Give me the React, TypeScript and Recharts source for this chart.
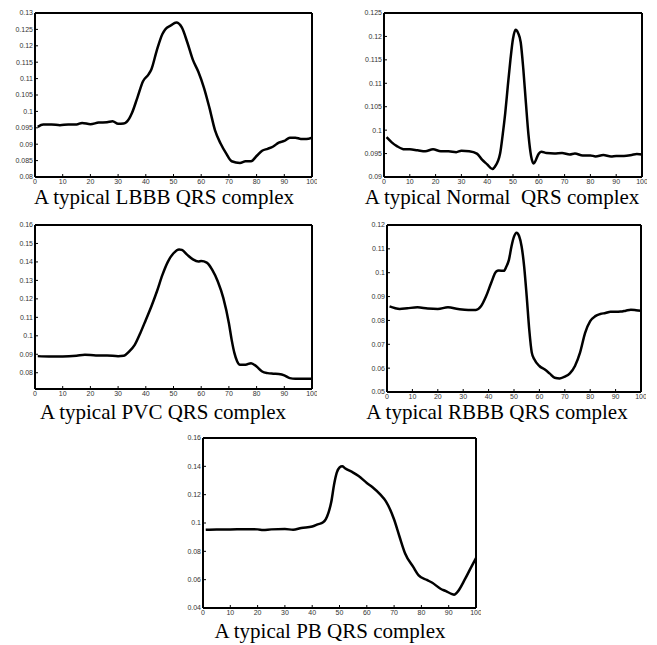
import React from 'react';
import { LineChart, Line, XAxis, YAxis } from 'recharts';

// ---------- data ----------
const X_TICKS = [0, 10, 20, 30, 40, 50, 60, 70, 80, 90, 100];

const LBBB_X = [1, 3, 6, 9, 12, 15, 17, 20, 23, 26, 28, 30, 32, 34, 35, 37, 39, 41, 42, 44, 46, 47, 49, 51, 53, 55, 57, 59, 61, 63, 65, 67, 69, 71, 74, 76, 78, 80, 82, 84, 86, 88, 90, 92, 94, 96, 98, 100];
const LBBB_Y = [0.0953, 0.0960, 0.0960, 0.0958, 0.0960, 0.0960, 0.0965, 0.0961, 0.0966, 0.0967, 0.0970, 0.0962, 0.0963, 0.0978, 0.0995, 0.1043, 0.1092, 0.1113, 0.1128, 0.1187, 0.1236, 0.1250, 0.1262, 0.1271, 0.1256, 0.1210, 0.1157, 0.1120, 0.1072, 0.1010, 0.0942, 0.0902, 0.0872, 0.0848, 0.0843, 0.0848, 0.0848, 0.0864, 0.0880, 0.0886, 0.0893, 0.0905, 0.0910, 0.0920, 0.0920, 0.0916, 0.0916, 0.0920];
const LBBB_TICKS = [0.08, 0.085, 0.09, 0.095, 0.1, 0.105, 0.11, 0.115, 0.12, 0.125, 0.13];

const NORMAL_X = [1, 3, 5, 8, 10, 13, 16, 19, 22, 25, 28, 30, 33, 36, 38, 40, 42, 43, 45, 46, 47, 48, 49, 50, 51, 52, 53, 54, 55, 56, 57, 58, 60, 61, 63, 66, 69, 72, 74, 77, 80, 82, 85, 88, 90, 93, 96, 98, 100];
const NORMAL_Y = [0.0985, 0.0974, 0.0966, 0.0959, 0.0959, 0.0957, 0.0955, 0.0959, 0.0955, 0.0955, 0.0953, 0.0956, 0.0955, 0.0950, 0.0937, 0.0927, 0.0917, 0.0922, 0.0950, 0.0990, 0.1037, 0.1095, 0.1150, 0.1195, 0.1214, 0.1207, 0.1187, 0.1130, 0.1058, 0.0990, 0.0945, 0.0929, 0.0950, 0.0954, 0.0951, 0.0950, 0.0951, 0.0948, 0.0950, 0.0946, 0.0946, 0.0944, 0.0947, 0.0944, 0.0945, 0.0945, 0.0947, 0.0949, 0.0948];
const NORMAL_TICKS = [0.09, 0.095, 0.1, 0.105, 0.11, 0.115, 0.12, 0.125];

const PVC_X = [1, 5, 10, 15, 18, 22, 26, 30, 32, 34, 36, 38, 40, 42, 44, 46, 48, 50, 52, 53, 55, 57, 59, 60, 62, 64, 66, 68, 70, 71, 72, 73, 74, 76, 78, 80, 82, 84, 86, 88, 90, 92, 94, 97, 100];
const PVC_Y = [0.0890, 0.0888, 0.0888, 0.0892, 0.0897, 0.0894, 0.0894, 0.0890, 0.0892, 0.0915, 0.0951, 0.1014, 0.1086, 0.1159, 0.1240, 0.1330, 0.1402, 0.1447, 0.1468, 0.1465, 0.1438, 0.1414, 0.1402, 0.1405, 0.1396, 0.1357, 0.1294, 0.1204, 0.1068, 0.0978, 0.0906, 0.0861, 0.0843, 0.0843, 0.0852, 0.0834, 0.0807, 0.0798, 0.0795, 0.0793, 0.0786, 0.0771, 0.0768, 0.0768, 0.0768];
const PVC_TICKS = [0.08, 0.09, 0.1, 0.11, 0.12, 0.13, 0.14, 0.15, 0.16];

const RBBB_X = [1, 3, 5, 8, 12, 16, 20, 24, 28, 32, 35, 37, 39, 41, 43, 44, 46, 47, 48, 49, 50, 51, 52, 53, 54, 55, 56, 57, 58, 60, 62, 64, 66, 68, 70, 72, 74, 76, 78, 80, 82, 84, 86, 88, 90, 92, 94, 96, 98, 100];
const RBBB_Y = [0.0859, 0.0852, 0.0848, 0.0851, 0.0855, 0.0850, 0.0848, 0.0855, 0.0848, 0.0844, 0.0844, 0.0859, 0.0901, 0.0957, 0.1005, 0.1009, 0.1008, 0.1026, 0.1054, 0.1110, 0.1151, 0.1168, 0.1154, 0.1110, 0.1026, 0.0901, 0.0762, 0.0665, 0.0637, 0.0609, 0.0595, 0.0578, 0.0560, 0.0557, 0.0564, 0.0578, 0.0609, 0.0665, 0.0748, 0.0797, 0.0818, 0.0827, 0.0831, 0.0836, 0.0836, 0.0837, 0.0841, 0.0845, 0.0843, 0.0840];
const RBBB_TICKS = [0.05, 0.06, 0.07, 0.08, 0.09, 0.1, 0.11, 0.12];

const PB_X = [1, 5, 10, 15, 20, 22, 25, 30, 33, 36, 40, 42, 44, 45, 46, 47, 48, 49, 50, 51, 52, 55, 57, 60, 62, 65, 67, 70, 72, 74, 77, 79, 82, 84, 87, 89, 91, 92, 93, 96, 98, 100];
const PB_Y = [0.0953, 0.0955, 0.0955, 0.0956, 0.0955, 0.0951, 0.0955, 0.0957, 0.0953, 0.0965, 0.0975, 0.0990, 0.1005, 0.1028, 0.1075, 0.1150, 0.1270, 0.1355, 0.1392, 0.1400, 0.1386, 0.1356, 0.1331, 0.1283, 0.1254, 0.1200, 0.1153, 0.1025, 0.0903, 0.0787, 0.0690, 0.0630, 0.0598, 0.0578, 0.0536, 0.0519, 0.0500, 0.0494, 0.0508, 0.0605, 0.0680, 0.0753];
const PB_TICKS = [0.04, 0.06, 0.08, 0.1, 0.12, 0.14, 0.16];

const TITLES = [
  'A typical LBBB QRS complex',
  'A typical Normal  QRS complex',
  'A typical PVC QRS complex',
  'A typical RBBB QRS complex',
  'A typical PB QRS complex',
];

// ---------- layout ----------
const PANELS = [
  { xs: LBBB_X, ys: LBBB_Y, ticks: LBBB_TICKS, domain: [0.08, 0.13], frame: [35, 13, 312, 177], title: [164, 204] },
  { xs: NORMAL_X, ys: NORMAL_Y, ticks: NORMAL_TICKS, domain: [0.09, 0.125], frame: [384, 13, 642, 177], title: [502, 204] },
  { xs: PVC_X, ys: PVC_Y, ticks: PVC_TICKS, domain: [0.0712, 0.16], frame: [35, 225, 312, 389], title: [163, 419] },
  { xs: RBBB_X, ys: RBBB_Y, ticks: RBBB_TICKS, domain: [0.05, 0.12], frame: [387, 225, 641, 392], title: [497, 419] },
  { xs: PB_X, ys: PB_Y, ticks: PB_TICKS, domain: [0.04, 0.16], frame: [203, 438, 476, 608], title: [330, 638] },
];

const fmt = (v: number) => String(+v.toFixed(3));
const TICK_STYLE = { fontSize: 7, fill: '#333', fontFamily: '"Liberation Sans", Arial, sans-serif' };
const AXIS_LINE = { stroke: '#000', strokeWidth: 2 };
const TICK_LINE = { stroke: '#000', strokeWidth: 1 };

function Panel({ xs, ys, ticks, domain, frame }: any) {
  const [x0, y0, x1, y1] = frame;
  const YW = 40, XH = 20, MT = 5, MR = 5;
  const width = x1 - x0 + YW + MR;
  const height = y1 - y0 + MT + XH;
  const data = xs.map((x: number, i: number) => ({ x, y: ys[i] }));
  return (
    <div style={{ position: 'absolute', left: x0 - YW, top: y0 - MT }}>
      <LineChart width={width} height={height} data={data} margin={{ top: MT, right: MR, bottom: 0, left: 0 }}>
        <XAxis xAxisId="b" dataKey="x" type="number" domain={[0, 100]} ticks={X_TICKS} allowDataOverflow interval={0}
          orientation="bottom" height={XH} tickSize={-3} tickMargin={5}
          axisLine={AXIS_LINE} tickLine={TICK_LINE} tick={TICK_STYLE} />
        <XAxis xAxisId="t" type="number" domain={[0, 100]} ticks={X_TICKS} allowDataOverflow interval={0}
          orientation="top" mirror tick={false} tickSize={3}
          axisLine={AXIS_LINE} tickLine={TICK_LINE} />
        <YAxis yAxisId="l" type="number" domain={domain} ticks={ticks} allowDataOverflow interval={0}
          orientation="left" width={YW} tickSize={-3} tickMargin={5} tickFormatter={fmt}
          axisLine={AXIS_LINE} tickLine={TICK_LINE} tick={TICK_STYLE} />
        <YAxis yAxisId="r" type="number" domain={domain} ticks={ticks} allowDataOverflow interval={0}
          orientation="right" mirror tick={false} tickSize={3}
          axisLine={AXIS_LINE} tickLine={TICK_LINE} />
        <Line xAxisId="b" yAxisId="l" dataKey="y" type="monotone" stroke="#000" strokeWidth={2.5}
          dot={false} activeDot={false} isAnimationActive={false} />
      </LineChart>
    </div>
  );
}

export default function App() {
  return (
    <div style={{ position: 'absolute', left: 0, top: 0, width: 657, height: 645, background: '#fff', overflow: 'hidden' }}>
      {PANELS.map((p, i) => (
        <Panel key={i} {...p} />
      ))}
      <svg width={657} height={645} style={{ position: 'absolute', left: 0, top: 0, pointerEvents: 'none' }}>
        {PANELS.map((p, i) => (
          <text key={i} x={p.title[0]} y={p.title[1]} textAnchor="middle" fontSize={21}
            fontFamily='"Liberation Serif", "Times New Roman", serif' fill="#000" style={{ whiteSpace: 'pre' }}>
            {TITLES[i]}
          </text>
        ))}
      </svg>
    </div>
  );
}
